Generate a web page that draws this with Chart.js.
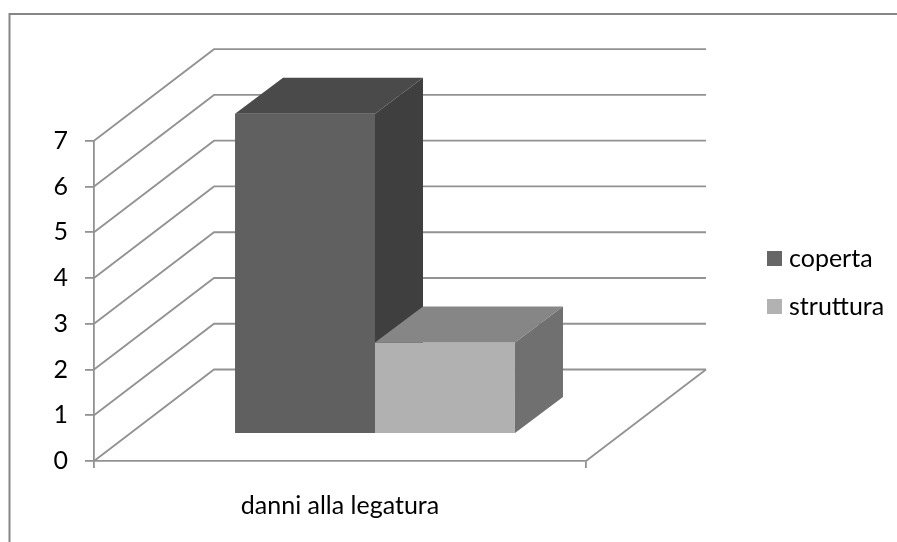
<!DOCTYPE html>
<html><head><meta charset="utf-8">
<style>html,body{margin:0;padding:0;background:#fff}canvas{display:block}</style>
<script src="https://cdn.jsdelivr.net/npm/chart.js@4"></script>
</head><body><canvas id="c" width="897" height="542" style="width:897px;height:542px"></canvas>
<script>
const categories = ['danni alla legatura'];
const coperta = [7];
const struttura = [2];
const yTicks = [0,1,2,3,4,5,6,7];
const seriesNames = ['coperta','struttura'];
const frontColors = ['#606060','#b1b1b1'];
const topColors = ['#4a4a4a','#868686'];
const sideColors = ['#3f3f3f','#707070'];
const swatchColors = ['#666666','#b2b2b2'];
const FONT = 'Lato';
const LINE = '#929292';
const WALL = {dx:120, dy:91.5};
const BARPOS = {dx:35, dy:27};
const BARDEPTH = {dx:48, dy:36};

const scene = {
  id:'scene',
  beforeLayout(chart){
    const l = chart.legend;
    if(!l._fitPatched){
      const fit = l.fit;
      l.fit = function(){ fit.call(this); this.width = 311; };
      l._fitPatched = true;
    }
  },
  afterLayout(chart){
    const l = chart.legend, p = l.options.labels.padding;
    const w = l.width, h = l.height;
    l.left = 772.5 - p; l.right = l.left + w;
    l.top = 246 - p; l.bottom = l.top + h;
  },
  beforeDraw(chart){
    const c = chart.ctx;
    c.save();
    c.strokeStyle='#868686'; c.lineWidth=2;
    c.beginPath(); c.moveTo(9.5,542); c.lineTo(9.5,14); c.lineTo(897,14); c.stroke();
    c.restore();
  },
  beforeDatasetsDraw(chart){
    const c = chart.ctx, y = chart.scales.y, x = chart.scales.x;
    const L = x.left, R = x.right;
    c.save();
    c.strokeStyle=LINE; c.lineWidth=1.8;
    yTicks.forEach(v=>{
      const py = y.getPixelForValue(v);
      c.beginPath();
      c.moveTo(L,py); c.lineTo(L+WALL.dx,py-WALL.dy); c.lineTo(R+WALL.dx,py-WALL.dy);
      c.stroke();
    });
    const p0 = y.getPixelForValue(0);
    c.beginPath(); c.moveTo(R,p0); c.lineTo(R+WALL.dx,p0-WALL.dy); c.stroke();
    c.restore();
    // Paint left to right, so that each box sits in front of the one before it.
    chart.data.datasets.forEach((ds,i)=>{
      const meta = chart.getDatasetMeta(i);
      c.save();
      c.translate(BARPOS.dx,-BARPOS.dy);
      meta.controller.draw();
      meta.data.forEach(b=>{
        const l=b.x-b.width/2, r=b.x+b.width/2, t=b.y, bt=b.base, D=BARDEPTH;
        c.fillStyle=topColors[i];
        c.beginPath(); c.moveTo(l,t); c.lineTo(l+D.dx,t-D.dy); c.lineTo(r+D.dx,t-D.dy); c.lineTo(r,t); c.closePath(); c.fill();
        c.fillStyle=sideColors[i];
        c.beginPath(); c.moveTo(r,t); c.lineTo(r+D.dx,t-D.dy); c.lineTo(r+D.dx,bt-D.dy); c.lineTo(r,bt); c.closePath(); c.fill();
      });
      c.restore();
    });
    return false;
  }
};

new Chart(document.getElementById('c'),{
  type:'bar',
  data:{labels:categories,datasets:[
    {label:seriesNames[0],data:coperta,backgroundColor:frontColors[0],borderWidth:0},
    {label:seriesNames[1],data:struttura,backgroundColor:frontColors[1],borderWidth:0}
  ]},
  options:{
    responsive:false,animation:false,devicePixelRatio:1,
    layout:{padding:{top:140.7,left:0,right:0,bottom:0}},
    datasets:{bar:{categoryPercentage:0.569,barPercentage:1}},
    plugins:{
      tooltip:{enabled:false},
      legend:{
        position:'right',align:'start',
        labels:{
          color:'#000',font:{family:FONT,size:25},boxWidth:4,boxHeight:4,padding:23,
          generateLabels(chart){
            return Chart.defaults.plugins.legend.labels.generateLabels(chart).map(it=>({...it,lineWidth:11,strokeStyle:swatchColors[it.datasetIndex],fillStyle:swatchColors[it.datasetIndex]}));
          }
        }
      }
    },
    scales:{
      x:{
        afterFit(s){s.height=81;},
        grid:{drawOnChartArea:false,color:LINE,lineWidth:1.8,tickLength:7},
        border:{color:LINE,width:1.8},
        ticks:{color:'#000',font:{family:FONT,size:25},padding:23}
      },
      y:{
        min:0,max:7,
        afterFit(s){s.width=94;},
        afterBuildTicks(s){s.ticks=yTicks.map(v=>({value:v}));},
        grid:{drawOnChartArea:false,color:LINE,lineWidth:1.8,tickLength:9},
        border:{color:LINE,width:1.8},
        ticks:{color:'#000',font:{family:FONT,size:25},padding:17}
      }
    }
  },
  plugins:[scene]
});
</script></body></html>
